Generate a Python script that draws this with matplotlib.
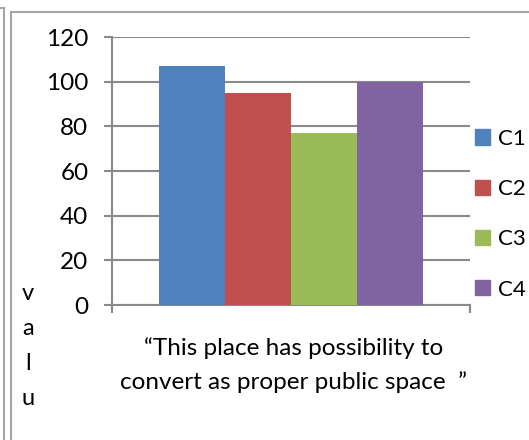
import matplotlib.pyplot as plt
from matplotlib.lines import Line2D
from matplotlib.patches import Patch

# chart data
series = ["C1", "C2", "C3", "C4"]
values = [107, 95, 77, 100]
colors = ["#4F81BD", "#C0504D", "#9BBB59", "#8064A2"]
yticks = [0, 20, 40, 60, 80, 100, 120]
xlabel_lines = ["\u201cThis place has possibility to", "convert as proper public space  \u201d"]
ylabel_text = "valu"

W, H = 529, 440
plt.rcParams['font.family'] = ['Lato', 'DejaVu Sans']
fig = plt.figure(figsize=(W / 100, H / 100), dpi=100)

def fx(px):  # pixel x -> figure fraction
  return px / W

def fy(py):  # pixel y (from top) -> figure fraction
  return 1 - py / H

grid_col = "#8a8a8a"
ax = fig.add_axes([fx(112), fy(305), fx(470) - fx(112), fy(37) - fy(305)])

bw = 0.184
for i, (name, v) in enumerate(zip(series, values)):
  ax.bar((i - 1.5) * bw, v, width=bw, color=colors[i], zorder=3, label=name)

ax.set_xlim(-0.5, 0.5)
ax.set_ylim(0, 120)
ax.set_yticks(yticks)
ax.set_xticks([-0.5, 0.5])
ax.set_xticklabels(["", ""])
ax.yaxis.grid(True, color=grid_col, linewidth=1.5, zorder=0)
ax.tick_params(axis="y", length=6, width=1.5, color=grid_col, pad=11, labelsize=17.5)
ax.tick_params(axis="x", length=6, width=1.5, color=grid_col)
for s in ["top", "right"]:
  ax.spines[s].set_visible(False)
for s in ["left", "bottom"]:
  ax.spines[s].set_color(grid_col)
  ax.spines[s].set_linewidth(1.5)

# legend on the right
handles = [Patch(color=c, label=n) for c, n in zip(colors, series)]
fig.legend(handles=handles, loc="upper left", bbox_to_anchor=(fx(466), fy(120)),
           frameon=False, fontsize=16, handlelength=0.68, handleheight=0.68,
           handletextpad=0.35, labelspacing=1.36, borderaxespad=0, borderpad=0.4)

# x axis label, two lines
fig.text(fx(294), fy(348), xlabel_lines[0], ha="center", va="center", fontsize=17.5)
fig.text(fx(293), fy(382), xlabel_lines[1], ha="center", va="center", fontsize=17.5)

# y label written as stacked letters
for k, ch in enumerate(ylabel_text):
  fig.text(fx(28), fy(293 + k * 35), ch, ha="center", va="center", fontsize=17)

# chart frame lines
frame_col = "#a6a6a6"
fig.add_artist(Line2D([fx(4), fx(4)], [fy(8), fy(440)], color=frame_col, lw=1.5))
fig.add_artist(Line2D([fx(0), fx(4)], [fy(8), fy(8)], color=frame_col, lw=1.5))
fig.add_artist(Line2D([fx(11), fx(11)], [fy(12), fy(440)], color=frame_col, lw=1.5))
fig.add_artist(Line2D([fx(11), fx(529)], [fy(12), fy(12)], color=frame_col, lw=1.5))

fig.savefig("out.png", dpi=100)
